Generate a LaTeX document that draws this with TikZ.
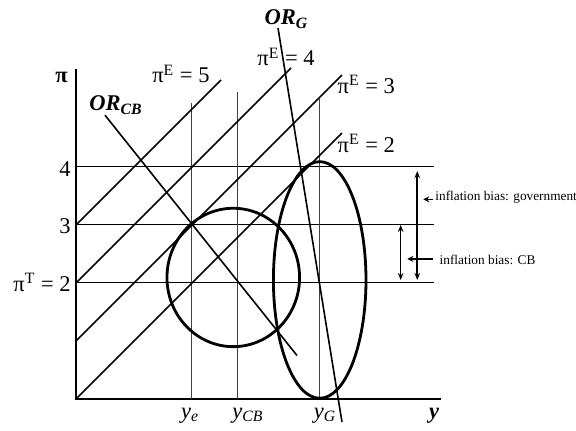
\documentclass[tikz,border=0pt]{standalone}
\usepackage{fontspec}
\setmainfont{Liberation Serif}
\usetikzlibrary{arrows.meta}

\begin{document}
\begin{tikzpicture}[x=29pt, y=29pt,
    axis/.style={line width=0.7pt},
    grid/.style={line width=0.5pt},
    vline/.style={line width=0.5pt, black!75},
    expect/.style={line width=0.8pt},
    curve/.style={line width=1.4pt},
    lbl/.style={font=\fontsize{11.25}{13}\selectfont, inner sep=0pt, anchor=base west},
    note/.style={font=\fontsize{6.65}{8}\selectfont, inner sep=0pt, anchor=base west},
    bias/.style={{Stealth[length=3.5pt,width=2.8pt]}-{Stealth[length=3.5pt,width=2.8pt]}, line width=0.8pt},
    arrow/.style={-{Stealth[length=3pt,width=3pt]}, line width=0.6pt}
]
\useasboundingbox (-1.31,-0.552) rectangle (8.621,6.879);

% axes
\coordinate (origin) at (0,0);
\coordinate (ytop) at (0,5.69);
\coordinate (xend) at (6.293,0);
\draw[axis] (ytop) -- (origin) -- (xend);
\node[lbl] (pi) at (-0.362,5.448) {\textbf{π}};
\node[lbl] (yax) at (6.08,-0.328) {\textbf{\textit{y}}};

% inflation levels
\foreach \p in {2,3,4}
    \draw[grid] (0,\p) -- (6.178,\p);
\node[lbl, anchor=base east] (four) at (-0.086,3.833) {4};
\node[lbl, anchor=base east] (three) at (-0.086,2.855) {3};
\node[lbl, anchor=base east] (target) at (-0.086,1.85) {π\textsuperscript{T} = 2};

% output levels
\draw[vline] (2,0) -- (2,5.098);
\draw[vline] (2.793,0) -- (2.793,5.298);
\draw[vline] (4.19,0) -- (4.19,5.172);
\node[lbl, anchor=base] (ye) at (1.966,-0.328) {\textit{y}\textsubscript{\textit{e}}};
\node[lbl, anchor=base] (ycb) at (2.966,-0.328) {\textit{y}\textsubscript{\textit{CB}}};
\node[lbl, anchor=base] (yg) at (4.293,-0.328) {\textit{y}\textsubscript{\textit{G}}};

% Phillips curves for given expectations
\draw[expect] (0,3) -- (2.5,5.5);
\draw[expect] (0,2) -- (3.707,5.707);
\draw[expect] (0,1) -- (4.586,5.586);
\draw[expect] (origin) -- (4.586,4.586);
\node[lbl] (pe5) at (1.31,5.448) {π\textsuperscript{E} = 5};
\node[lbl] (pe4) at (3.121,5.741) {π\textsuperscript{E} = 4};
\node[lbl] (pe3) at (4.506,5.271) {π\textsuperscript{E} = 3};
\node[lbl] (pe2) at (4.506,4.247) {π\textsuperscript{E} = 2};

% indifference curves
\draw[curve] (2.712,2.095) ellipse [x radius=1.143, y radius=1.193];
\draw[curve] (4.202,2.052) ellipse [x radius=0.798, y radius=2.04];

% optimal reaction lines
\draw[expect] (0.5,4.893) -- (3.81,0.75);
\draw[expect] (3.483,6.397) -- (4.586,-0.397);
\node[lbl] (orcb) at (0.224,4.966) {\textbf{\textit{OR}}\textsubscript{\textbf{\textit{CB}}}};
\node[lbl] (org) at (3.247,6.448) {\textbf{\textit{OR}}\textsubscript{\textbf{\textit{G}}}};

% inflation bias
\draw[bias] (5.598,3) -- (5.598,2.052);
\draw[bias] (5.884,3.93) -- (5.884,2.052);
\coordinate (tipG) at (5.988,3.443);
\coordinate (tipCB) at (5.712,2.414);
\node[note] (biasG) at (6.19,3.43) {inflation bias: government};
\node[note] (biasCB) at (6.264,2.31) {inflation bias: CB};
\draw[arrow] (6.155,3.443) -- (tipG);
\draw[arrow] (6.155,2.414) -- (tipCB);
\end{tikzpicture}
\end{document}
